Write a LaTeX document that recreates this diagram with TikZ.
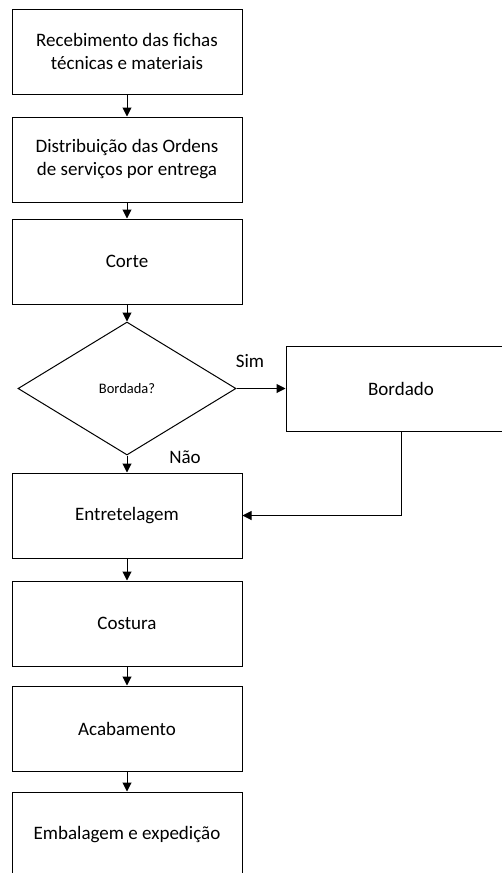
\documentclass[tikz,border=0pt]{standalone}
\usepackage{fontspec}
\setmainfont{Carlito}
\usetikzlibrary{shapes.geometric,arrows.meta}
\begin{document}
\begin{tikzpicture}[x=1pt,y=-1pt,
  stepbox/.style={draw=black,line width=1pt,minimum width=230pt,minimum height=85pt,
    inner sep=0pt,align=center,font=\fontsize{19}{23}\selectfont},
  decision/.style={draw=black,line width=1pt,diamond,minimum width=218pt,minimum height=133pt,
    inner sep=0pt,font=\fontsize{14.5}{17}\selectfont},
  flow/.style={draw=black,line width=1pt,-{Triangle[length=9pt,width=9pt]}},
  lbl/.style={font=\fontsize{19}{23}\selectfont,inner sep=0pt}]
\useasboundingbox (0,0) rectangle (502,873);
\clip (0,0) rectangle (502,873);
\node[stepbox] (rec) at (127,51.5) {Recebimento das fichas\\técnicas e materiais};
\node[stepbox] (dist) at (127,159.5) {Distribuição das Ordens\\de serviços por entrega};
\node[stepbox] (corte) at (127,261.5) {Corte};
\node[decision] (dec) at (127,388.5) {Bordada?};
\node[stepbox] (bord) at (401,388.5) {Bordado};
\node[stepbox] (entr) at (127,515.5) {Entretelagem};
\node[stepbox] (cost) at (127,623.5) {Costura};
\node[stepbox] (acab) at (127,728.5) {Acabamento};
\node[stepbox] (emb) at (127,834.5) {Embalagem e expedição};
\draw[flow] (rec) -- (dist);
\draw[flow] (dist) -- (corte);
\draw[flow] (corte) -- (dec);
\draw[flow] (dec.east) -- (bord.west);
\draw[flow] (dec.south) -- (entr.north);
\draw[flow] (bord.south) |- (entr.east);
\draw[flow] (entr) -- (cost);
\draw[flow] (cost) -- (acab);
\draw[flow] (acab) -- (emb);
\node[lbl] (sim) at (250,361) {Sim};
\node[lbl] (nao) at (185,457) {Não};
\end{tikzpicture}
\end{document}
